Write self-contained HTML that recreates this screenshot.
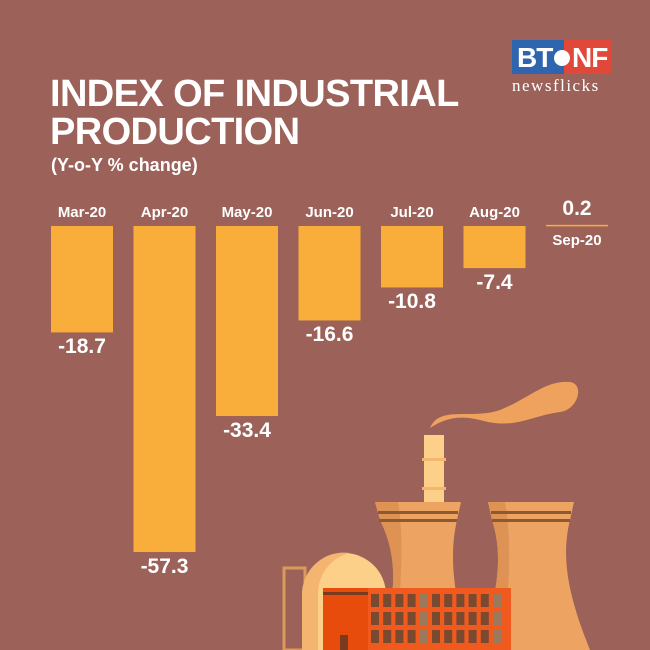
<!DOCTYPE html>
<html><head><meta charset="utf-8"><style>
body{margin:0}
#c{position:relative;width:650px;height:650px;background:#9c6158;overflow:hidden;font-family:"Liberation Sans",sans-serif;color:#fff}
.t{position:absolute;font-weight:bold;white-space:nowrap}
</style></head><body>
<div id="c">
<div class="t" style="left:50px;top:75px;font-size:38px;line-height:38px;letter-spacing:-0.6px;transform:scaleX(1.0);transform-origin:left">INDEX OF INDUSTRIAL<br>PRODUCTION</div>
<div class="t" style="left:51px;top:155px;font-size:18px">(Y-o-Y % change)</div>
<div style="position:absolute;left:512px;top:40px;width:100px;height:34px">
<div style="position:absolute;left:0;top:0;width:52px;height:34px;background:#2f64ae"></div>
<div style="position:absolute;left:52px;top:0;width:48px;height:34px;background:#e0483a"></div>
<div class="t" style="left:5px;top:2px;font-size:28px;letter-spacing:-1px">BT</div>
<div style="position:absolute;left:42px;top:10px;width:16px;height:16px;border-radius:50%;background:#fff"></div>
<div class="t" style="left:60px;top:2px;font-size:28px;letter-spacing:-1px">NF</div>
</div>
<div class="t" style="left:512px;top:76px;font-family:'Liberation Serif',serif;font-weight:normal;font-size:17px;letter-spacing:1.5px">newsflicks</div>
<svg id="s" width="650" height="650" style="position:absolute;left:0;top:0">
<g>
<path d="M430,428 C440,405 470,420 500,410 C530,398 545,380 570,382 C585,384 578,410 560,412 C530,416 515,430 480,420 C460,415 445,418 430,428Z" fill="#eea25d"/>
<rect x="424" y="435" width="20" height="68" fill="#fdd08a"/>
<rect x="422" y="458" width="24" height="3" fill="#f5b66f"/>
<rect x="422" y="487" width="24" height="3" fill="#f5b66f"/>
<path d="M375,502 L461,502 L457,520 C448,560 455,600 470,650 L380,650 C395,600 400,560 380,520Z" fill="#eda463"/>
<path d="M375,502 L398,502 C405,540 400,600 395,650 L380,650 C395,600 400,560 380,520Z" fill="#de9254"/>
<rect x="378" y="511" width="80" height="3" fill="#8c5a30"/>
<rect x="379" y="519" width="78" height="3" fill="#8c5a30"/>
<path d="M488,502 L574,502 L570,520 C560,560 570,600 590,650 L480,650 C495,600 505,560 492,520Z" fill="#eda463"/>
<path d="M488,502 L505,502 C512,540 510,600 500,650 L480,650 C495,600 505,560 492,520Z" fill="#de9254"/>
<rect x="491" y="511" width="80" height="3" fill="#8c5a30"/>
<rect x="492" y="519" width="78" height="3" fill="#8c5a30"/>
<rect x="284" y="568" width="21" height="82" fill="none" stroke="#d99a5a" stroke-width="3"/>
<path d="M302,650 L302,595 A42,42 0 0 1 386,595 L386,650Z" fill="#fdd08a"/>
<path d="M302,650 L302,595 A42,42 0 0 1 350,553 A40,42 0 0 0 318,595 L318,650Z" fill="#f3b570"/>
<rect x="323" y="588" width="188" height="62" fill="#f15a1e"/>
<rect x="323" y="588" width="45" height="62" fill="#e84c0c"/>
<rect x="323" y="592" width="45" height="3" fill="#7a3a20"/>
<rect x="340" y="635" width="8" height="15" fill="#7a3a20"/>
<g id="win"></g>
</g>
</svg>
</div>
<script>
const months=["Mar-20","Apr-20","May-20","Jun-20","Jul-20","Aug-20","Sep-20"];
const values=[-18.7,-57.3,-33.4,-16.6,-10.8,-7.4,0.2];
const labels=["-18.7","-57.3","-33.4","-16.6","-10.8","-7.4","0.2"];
const NS="http://www.w3.org/2000/svg";
const svg=document.getElementById('s'),c=document.getElementById('c');
const zeroY=226,k=5.69,x0=51,step=82.5,bw=62;
const yS=v=>zeroY-v*k, xS=i=>x0+i*step;
const win=document.getElementById('win');
for(let r=0;r<3;r++)for(let j=0;j<11;j++){const w=document.createElementNS(NS,'rect');w.setAttribute('x',371+j*12.2);w.setAttribute('y',594+r*18);w.setAttribute('width',8);w.setAttribute('height',13);w.setAttribute('fill',(j==4||j==10)?'#9a7a5a':'#7a4a30');win.appendChild(w);}
months.forEach((m,i)=>{
 const v=values[i],x=xS(i);
 const top=Math.min(yS(v),zeroY),h=Math.max(Math.abs(v*k),1.5);
 const r=document.createElementNS(NS,'rect');
 
 
 r.setAttribute('x',x);r.setAttribute('y',top);r.setAttribute('width',bw);r.setAttribute('height',h);
 r.setAttribute('fill','#f9ae3b');
 svg.insertBefore(r,svg.firstChild);
 const ml=document.createElement('div');
 ml.className='t';
 
 
 ml.textContent=m;ml.style.fontSize='15px';ml.style.width=bw+'px';ml.style.textAlign='center';ml.style.left=x+'px';
 const vl=document.createElement('div');
 vl.className='t';
 
 
 vl.textContent=labels[i];vl.style.fontSize='21px';vl.style.width=bw+'px';vl.style.textAlign='center';vl.style.left=x+'px';
 if(v>=0){vl.style.top=(top-28)+'px';ml.style.top=(zeroY+6)+'px';}
 else{ml.style.top='204px';vl.style.top=(zeroY-v*k+3)+'px';}
 c.appendChild(ml);c.appendChild(vl);
});
</script>
</body></html>
